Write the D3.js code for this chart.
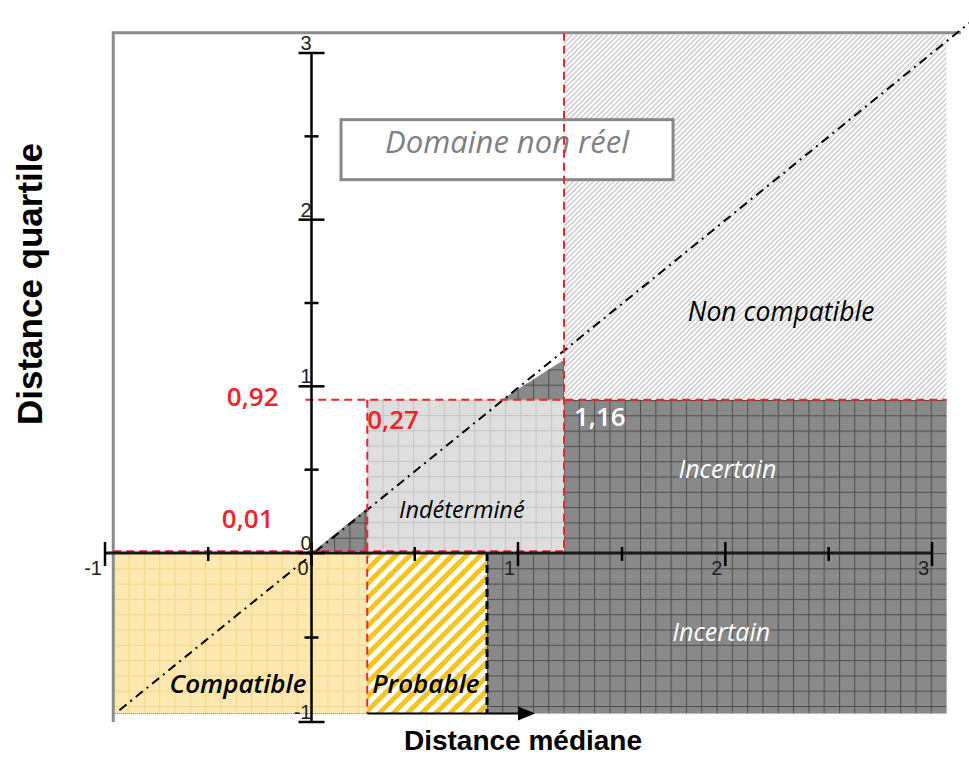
<!DOCTYPE html>
<html>
<head>
<meta charset="utf-8">
<script src="https://cdn.jsdelivr.net/npm/d3@7"></script>
<style>
  body { margin: 0; background: #fff; }
  svg { display: block; }
</style>
</head>
<body>
<script>
// Axis ticks
const xTicks = [-1, 0, 1, 2, 3];
const xMinorTicks = [-0.5, 0.5, 1.5, 2.5];
const yTicks = [-1, 0, 1, 2, 3];
const yMinorTicks = [-0.5, 0.5, 1.5, 2.5];
const xTickLabels = ["-1", "0", "1", "2", "3"];
const yTickLabels = ["-1", "0", "1", "2", "3"];

// Decision thresholds
const medianThresholds = [0.27, 1.16];      // distance médiane
const quartileThresholds = [0.01, 0.92];    // distance quartile
const medianThresholdLabels = ["0,27", "1,16"];
const quartileThresholdLabels = ["0,01", "0,92"];
const probableLimit = 0.85;

// Plotted domain
const xExtent = [-0.96, 3.07];
const yExtent = [-0.95, 3.11];

// Decision zones (data bounds)
const zoneNames = ["Compatible", "Probable", "Incertain", "Indéterminé", "Incertain", "Non compatible"];
const zoneX0 = [-0.96, 0.27, 0.85, 0.27, 1.16, 1.16];
const zoneX1 = [0.27, 0.85, 3.07, 1.16, 3.07, 3.07];
const zoneY0 = [-0.95, -0.95, -0.95, 0.01, 0, 0.92];
const zoneY1 = [0, 0, 0, 0.92, 0.92, 3.11];

// Triangles between the diagonal and the thresholds
const triangleLow = [[0.01, 0.01], [0.27, 0.27], [0.27, 0.01]];
const triangleHigh = [[0.92, 0.92], [1.16, 1.16], [1.16, 0.92]];

// Diagonal y = x
const diagonalRange = [-0.93, 3.18];

const W = 969, H = 758;
const svg = d3.select("body").append("svg").attr("width", W).attr("height", H);

const x = d3.scaleLinear().domain([-1, 1, 1.16, 1.5, 3]).range([105, 518, 564, 622, 932]);
const y = d3.scaleLinear().domain([-1, 0, 3]).range([722, 553, 53]);

// ---------- patterns ----------
const defs = svg.append("defs");
const G = 15.3;

function gridPattern(id, base, line, ox, oy, dotted) {
  const p = defs.append("pattern").attr("id", id)
    .attr("patternUnits", "userSpaceOnUse")
    .attr("x", ox).attr("y", oy).attr("width", G).attr("height", G);
  p.append("rect").attr("width", G).attr("height", G).attr("fill", base);
  if (dotted) p.append("rect").attr("width", G).attr("height", G).attr("fill", "url(#" + dotted + ")");
  p.append("line").attr("x1", 0.5).attr("x2", 0.5).attr("y1", 0).attr("y2", G)
    .attr("stroke", line).attr("stroke-width", 1.1);
  p.append("line").attr("x1", 0).attr("x2", G).attr("y1", 0.5).attr("y2", 0.5)
    .attr("stroke", line).attr("stroke-width", 1.1);
}
function dotPattern(id, dot) {
  const p = defs.append("pattern").attr("id", id)
    .attr("patternUnits", "userSpaceOnUse").attr("width", 2).attr("height", 2);
  p.append("rect").attr("x", 0).attr("y", 0).attr("width", 1).attr("height", 1).attr("fill", dot);
  p.append("rect").attr("x", 1).attr("y", 1).attr("width", 1).attr("height", 1).attr("fill", dot);
}
function stripePattern(id, colour, period, thick, bg) {
  const p = defs.append("pattern").attr("id", id)
    .attr("patternUnits", "userSpaceOnUse").attr("width", period).attr("height", period)
    .attr("patternTransform", "rotate(45)");
  p.append("rect").attr("width", period).attr("height", period).attr("fill", bg);
  p.append("rect").attr("width", thick).attr("height", period).attr("fill", colour);
}
dotPattern("darkDots", "#7f7f7f");
dotPattern("yellowDots", "#fbe4a6");
gridPattern("gridDark", "#939393", "#4f4f4f", x(probableLimit), y(0), "darkDots");
gridPattern("gridYellow", "#fdecbb", "#f5d684", x(xExtent[0]), y(0), "yellowDots");
gridPattern("gridLight", "#dedede", "#c4c4c4", x(medianThresholds[0]), y(quartileThresholds[1]), null);
stripePattern("stripeYellow", "#f5c41f", 10, 5, "#ffffff");
stripePattern("stripeGrey", "#cacaca", 3.6, 1.5, "#ffffff");

const zoneFill = {
  "Compatible": "url(#gridYellow)",
  "Probable": "url(#stripeYellow)",
  "Incertain": "url(#gridDark)",
  "Indéterminé": "url(#gridLight)",
  "Non compatible": "url(#stripeGrey)"
};

// ---------- zones ----------
const zones = zoneNames.map((n, i) => ({ name: n, x0: zoneX0[i], x1: zoneX1[i], y0: zoneY0[i], y1: zoneY1[i] }));
svg.append("g").selectAll("rect").data(zones).join("rect")
  .attr("x", d => x(d.x0))
  .attr("y", d => y(d.y1))
  .attr("width", d => x(d.x1) - x(d.x0))
  .attr("height", d => y(d.y0) - y(d.y1))
  .attr("fill", d => zoneFill[d.name]);

// bottom edge of the "Compatible" zone
svg.append("line")
  .attr("x1", x(xExtent[0])).attr("x2", x(medianThresholds[0]))
  .attr("y1", y(yExtent[0])).attr("y2", y(yExtent[0]))
  .attr("stroke", "#8a7a55").attr("stroke-width", 1).attr("stroke-dasharray", "1,1");

// triangles under the diagonal
const line = d3.line().x(d => x(d[0])).y(d => y(d[1]));
[triangleLow, triangleHigh].forEach(t => {
  svg.append("path").attr("d", line(t) + "Z").attr("fill", "url(#gridDark)");
});

// "Domaine non réel" box
const boxX0 = 0.143, boxX1 = 1.747, boxY0 = 2.24, boxY1 = 2.6;
svg.append("rect")
  .attr("x", x(boxX0)).attr("y", y(boxY1))
  .attr("width", x(boxX1) - x(boxX0)).attr("height", y(boxY0) - y(boxY1))
  .attr("fill", "#fff").attr("stroke", "#878787").attr("stroke-width", 3);
svg.append("text")
  .attr("x", (x(boxX0) + x(boxX1)) / 2).attr("y", y(2.4))
  .attr("text-anchor", "middle")
  .attr("font-family", "'Open Sans', sans-serif").attr("font-style", "italic")
  .attr("font-size", 31).attr("fill", "#808080")
  .text("Domaine non réel");

// outer frame (top and left)
svg.append("path")
  .attr("d", `M${x(xExtent[0])},${y(-1)} L${x(xExtent[0])},${y(yExtent[1]) - 2} L${x(3.14)},${y(yExtent[1]) - 2}`)
  .attr("fill", "none").attr("stroke", "#8c8c8c").attr("stroke-width", 3);

// diagonal y = x
svg.append("line")
  .attr("x1", x(diagonalRange[0])).attr("y1", y(diagonalRange[0]))
  .attr("x2", x(diagonalRange[1])).attr("y2", y(diagonalRange[1]))
  .attr("stroke", "#000").attr("stroke-width", 2)
  .attr("stroke-dasharray", "9,5,2,5");

// threshold lines
const red = "#f0242a";
function dashed(x1, y1, x2, y2, colour, w, dash) {
  svg.append("line").attr("x1", x1).attr("y1", y1).attr("x2", x2).attr("y2", y2)
    .attr("stroke", colour).attr("stroke-width", w).attr("stroke-dasharray", dash);
}
dashed(x(-0.03), y(quartileThresholds[1]), x(xExtent[1]), y(quartileThresholds[1]), red, 2, "8,5");
dashed(x(xExtent[0]), y(quartileThresholds[0]), x(medianThresholds[1]), y(quartileThresholds[0]), red, 2, "8,5");
dashed(x(medianThresholds[0]), y(quartileThresholds[1]), x(medianThresholds[0]), y(yExtent[0]), red, 2, "8,5");
dashed(x(medianThresholds[1]), y(yExtent[1]) - 2, x(medianThresholds[1]), y(0), red, 2, "8,5");
dashed(x(probableLimit), y(0), x(probableLimit), y(yExtent[0]), "#000", 3, "8,4");

// ---------- axes ----------
const axisG = svg.append("g");
axisG.append("line").attr("x1", x(-1)).attr("x2", x(3)).attr("y1", y(0)).attr("y2", y(0))
  .attr("stroke", "#1a1a1a").attr("stroke-width", 3);
axisG.append("line").attr("x1", x(0)).attr("x2", x(0)).attr("y1", y(3)).attr("y2", y(-1))
  .attr("stroke", "#000").attr("stroke-width", 2.5);

axisG.selectAll(".xt").data(xTicks).join("line")
  .attr("x1", d => x(d)).attr("x2", d => x(d)).attr("y1", y(0) - 11).attr("y2", y(0) + 13)
  .attr("stroke", "#000").attr("stroke-width", 2.5);
axisG.selectAll(".xm").data(xMinorTicks).join("line")
  .attr("x1", d => x(d)).attr("x2", d => x(d)).attr("y1", y(0) - 6).attr("y2", y(0) + 8)
  .attr("stroke", "#000").attr("stroke-width", 2.5);
axisG.selectAll(".yt").data(yTicks).join("line")
  .attr("x1", x(0) - 13).attr("x2", x(0) + 13).attr("y1", d => y(d)).attr("y2", d => y(d))
  .attr("stroke", "#000").attr("stroke-width", 2.5);
axisG.selectAll(".ym").data(yMinorTicks).join("line")
  .attr("x1", x(0) - 7).attr("x2", x(0) + 7).attr("y1", d => y(d)).attr("y2", d => y(d))
  .attr("stroke", "#000").attr("stroke-width", 2.5);

axisG.selectAll(".xl").data(xTicks).join("text")
  .attr("x", d => x(d) - 3).attr("y", y(0) + 22)
  .attr("text-anchor", "end")
  .attr("font-family", "'Liberation Sans', Arial, sans-serif").attr("font-size", 20)
  .attr("fill", "#222")
  .text((d, i) => xTickLabels[i]);
axisG.selectAll(".yl").data(yTicks).join("text")
  .attr("x", x(0)).attr("y", d => y(d) - 3)
  .attr("text-anchor", "end")
  .attr("font-family", "'Liberation Sans', Arial, sans-serif").attr("font-size", 20)
  .attr("fill", "#222")
  .text((d, i) => yTickLabels[i]);

// arrow under the "Probable" zone
const arrowY = y(yExtent[0]);
svg.append("line").attr("x1", x(medianThresholds[0])).attr("x2", x(1.0))
  .attr("y1", arrowY).attr("y2", arrowY).attr("stroke", "#000").attr("stroke-width", 2);
svg.append("path")
  .attr("d", `M${x(1.0)},${arrowY - 7} L${x(1.06)},${arrowY} L${x(1.0)},${arrowY + 7} Z`)
  .attr("fill", "#000");

// ---------- zone labels ----------
const labelFont = "'Open Sans', sans-serif";
const zoneLabels = [
  { t: "Compatible", x: -0.356, y: -0.83, size: 26, c: "#000", w: 600 },
  { t: "Probable", x: 0.554, y: -0.83, size: 26, c: "#000", w: 600 },
  { t: "Incertain", x: 1.98, y: -0.52, size: 25, c: "#fff", w: 500 },
  { t: "Incertain", x: 2.01, y: 0.45, size: 25, c: "#fff", w: 500 },
  { t: "Indéterminé", x: 0.728, y: 0.21, size: 23.5, c: "#000", w: 500 },
  { t: "Non compatible", x: 2.27, y: 1.39, size: 26.5, c: "#000", w: 500 }
];
svg.append("g").selectAll("text").data(zoneLabels).join("text")
  .attr("x", d => x(d.x)).attr("y", d => y(d.y))
  .attr("text-anchor", "middle")
  .attr("font-family", labelFont).attr("font-style", "italic")
  .attr("font-weight", d => d.w).attr("font-size", d => d.size)
  .attr("fill", d => d.c)
  .text(d => d.t);

// threshold labels
const thrFont = { family: labelFont, size: 26, weight: 600 };
function thrLabel(tx, ty, anchor, colour, txt) {
  svg.append("text").attr("x", tx).attr("y", ty).attr("text-anchor", anchor)
    .attr("font-family", thrFont.family).attr("font-size", thrFont.size)
    .attr("font-weight", thrFont.weight).attr("fill", colour).text(txt);
}
thrLabel(x(0) - 33, y(quartileThresholds[1]) + 6, "end", red, quartileThresholdLabels[1]);
thrLabel(x(0) - 38, y(quartileThresholds[0]) - 23, "end", red, quartileThresholdLabels[0]);
thrLabel(x(medianThresholds[0]), y(quartileThresholds[1]) + 29, "start", red, medianThresholdLabels[0]);
thrLabel(x(medianThresholds[1]) + 10, y(quartileThresholds[1]) + 26, "start", "#fff", medianThresholdLabels[1]);

// axis titles
svg.append("text")
  .attr("x", 523).attr("y", 750).attr("text-anchor", "middle")
  .attr("font-family", "'Liberation Sans', Arial, sans-serif").attr("font-weight", "bold")
  .attr("font-size", 28).attr("fill", "#000")
  .text("Distance médiane");
svg.append("text")
  .attr("transform", "translate(42,284) rotate(-90)")
  .attr("text-anchor", "middle")
  .attr("font-family", "'Liberation Sans', Arial, sans-serif").attr("font-weight", "bold")
  .attr("font-size", 35).attr("fill", "#000")
  .text("Distance quartile");
</script>
</body>
</html>
